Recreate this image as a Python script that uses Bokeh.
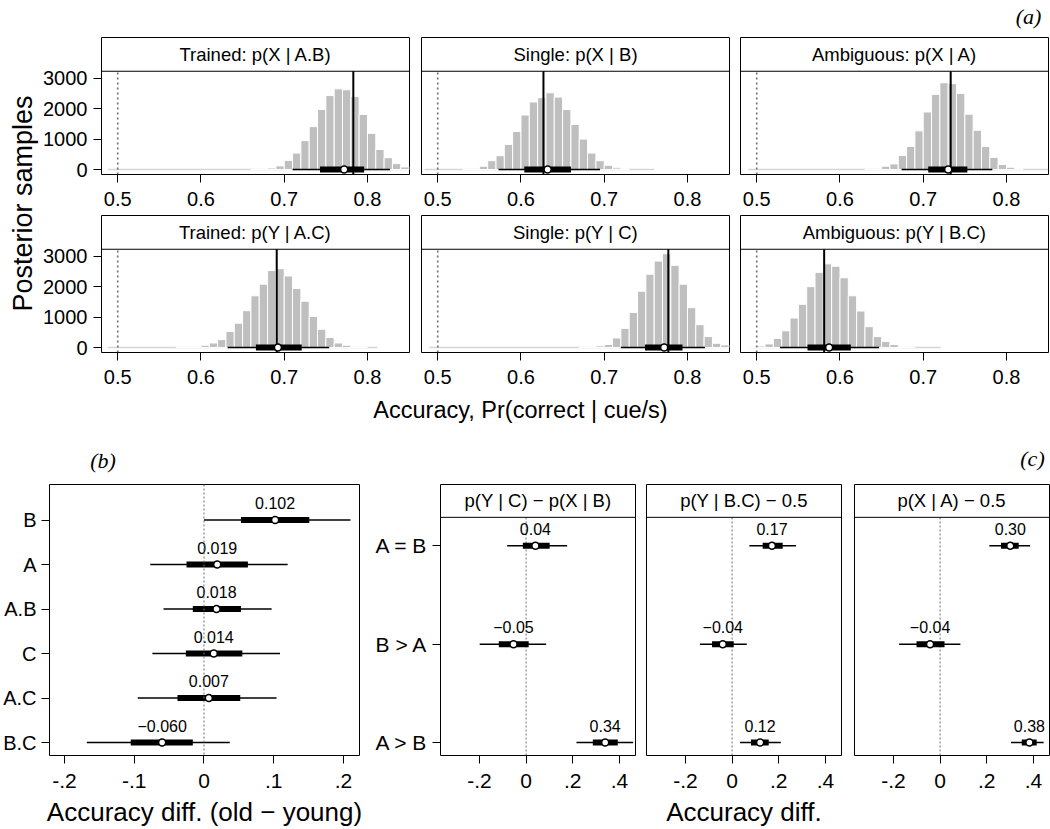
import numpy as np
from bokeh.plotting import figure
from bokeh.layouts import row, column
from bokeh.models import Range1d, FixedTicker, Span
from bokeh.core.properties import value
from bokeh.embed import file_html
from bokeh.resources import INLINE

# ======================= DATA =======================
# ---- panel (a): posterior histograms (bin width 0.01) ----
hist_titles = ["Trained: p(X | A.B)", "Single: p(X | B)", "Ambiguous: p(X | A)",
               "Trained: p(Y | A.C)", "Single: p(Y | C)", "Ambiguous: p(Y | B.C)"]
hist_first_bin = [0.66, 0.53, 0.63, 0.57, 0.67, 0.49]
counts_XAB = [10, 25, 50, 120, 300, 540, 950, 1410, 1975, 2430, 2650, 2620, 2400, 1810, 1190, 660, 390, 195, 85]
counts_XB = [15, 40, 110, 290, 455, 825, 1250, 1790, 2220, 2360, 2520, 2380, 1970, 1480, 1000, 540, 290, 140, 55, 20]
counts_XA = [15, 40, 110, 185, 460, 760, 1270, 1890, 2470, 2850, 2820, 2500, 1820, 1290, 760, 400, 165, 75, 20]
counts_YAC = [20, 30, 40, 75, 150, 260, 530, 800, 1210, 1700, 2080, 2530, 2590, 2350, 1940, 1520, 1020, 600, 330, 150, 75, 30, 10]
counts_YC = [10, 20, 55, 100, 315, 630, 1150, 1850, 2410, 2840, 3080, 2700, 2080, 1310, 750, 360, 140, 85]
counts_YBC = [15, 50, 120, 300, 550, 970, 1420, 2000, 2470, 2750, 2670, 2290, 1700, 1200, 685, 360, 200, 100, 30, 10]
hist_counts = [counts_XAB, counts_XB, counts_XA, counts_YAC, counts_YC, counts_YBC]
sample_min = [0.488, 0.484, 0.490, 0.488, 0.490, 0.490]
sample_max = [0.850, 0.760, 0.850, 0.812, 0.850, 0.721]
observed = [0.783, 0.627, 0.733, 0.691, 0.777, 0.581]
a_median = [0.772, 0.632, 0.730, 0.6925, 0.772, 0.587]
a_lo95 = [0.710, 0.573, 0.674, 0.632, 0.720, 0.528]
a_hi95 = [0.827, 0.695, 0.783, 0.754, 0.821, 0.647]
a_lo50 = [0.743, 0.604, 0.706, 0.666, 0.749, 0.561]
a_hi50 = [0.796, 0.660, 0.753, 0.721, 0.794, 0.613]
chance = 0.5
a_xticks = [0.5, 0.6, 0.7, 0.8]
a_yticks = [0, 1000, 2000, 3000]

# ---- panel (b): accuracy difference old - young ----
b_categories = ["B.C", "A.C", "C", "A.B", "A", "B"]          # bottom -> top
b_median = [-0.060, 0.007, 0.014, 0.018, 0.019, 0.102]
b_lo95 = [-0.168, -0.095, -0.074, -0.058, -0.077, 0.000]
b_hi95 = [0.037, 0.104, 0.109, 0.097, 0.120, 0.210]
b_lo50 = [-0.105, -0.038, -0.026, -0.016, -0.025, 0.053]
b_hi50 = [-0.016, 0.052, 0.055, 0.053, 0.063, 0.151]
b_xticks = [-0.2, -0.1, 0.0, 0.1, 0.2]
b_xtick_labels = ["-.2", "-.1", "0", ".1", ".2"]

# ---- panel (c): contrasts by group ----
c_titles = ["p(Y | C) \u2212 p(X | B)", "p(Y | B.C) \u2212 0.5", "p(X | A) \u2212 0.5"]
c_groups = ["A > B", "B > A", "A = B"]                        # bottom -> top
c_median = [[0.339, -0.054, 0.040], [0.120, -0.040, 0.171], [0.383, -0.043, 0.301]]
c_lo95 = [[0.216, -0.199, -0.081], [0.034, -0.138, 0.074], [0.304, -0.176, 0.211]]
c_hi95 = [[0.459, 0.086, 0.176], [0.209, 0.063, 0.274], [0.444, 0.087, 0.386]]
c_lo50 = [[0.286, -0.117, -0.014], [0.081, -0.086, 0.131], [0.350, -0.101, 0.261]]
c_hi50 = [[0.393, 0.011, 0.101], [0.157, 0.007, 0.217], [0.414, 0.019, 0.337]]
c_xticks = [-0.2, 0.0, 0.2, 0.4]
c_xtick_labels = ["-.2", "0", ".2", ".4"]

# ======================= STYLE / LAYOUT =======================
FONT = "Liberation Sans"
SERIF = "Liberation Serif"
BIN_W = 0.01
BAR_COLOR = "#bfbfbf"
REF_COLOR = "#6e6e6e"

A_X = (0.4805, 0.8505)
A_Y0, A_PLOT_TOP, A_STRIP_TOP = -163, 3228, 4337
B_X = (-0.2215, 0.223)
B_Y = (0.71, 6.8)
C_X = (-0.367, 0.469)
C_Y0, C_PLOT_TOP, C_STRIP_TOP = 0.868, 3.29, 3.624


def fmt(v, d):
    return f"{v:.{d}f}".replace("-", "\u2212")


def base_fig(w, h, xr, yr, left, right, bottom, show_x=True, show_y=True):
    p = figure(width=w, height=h, x_range=Range1d(*xr), y_range=Range1d(*yr),
               output_backend="svg", toolbar_location=None,
               x_axis_location="below" if show_x else None,
               y_axis_location="left" if show_y else None,
               min_border_left=left, min_border_right=right,
               min_border_top=1, min_border_bottom=bottom)
    p.grid.visible = False
    p.outline_line_color = "black"
    p.outline_line_width = 1
    p.background_fill_color = "white"
    p.border_fill_color = "white"
    for ax in p.axis:
        ax.axis_line_color = None
        ax.major_tick_line_color = "black"
        ax.major_tick_line_width = 1
        ax.major_tick_out = 8
        ax.major_tick_in = 0
        ax.minor_tick_line_color = None
        ax.major_label_text_font = FONT
        ax.major_label_text_color = "black"
        ax.axis_label_text_color = "black"
    return p


def text_fig(w, h):
    p = figure(width=w, height=h, x_range=Range1d(0, w), y_range=Range1d(h, 0),
               output_backend="svg", toolbar_location=None,
               x_axis_location=None, y_axis_location=None, min_border=0)
    p.outline_line_color = None
    p.grid.visible = False
    p.border_fill_color = "white"
    return p


def draw_interval(p, ys, lo95, hi95, lo50, hi50, med):
    p.segment(x0=lo95, y0=ys, x1=hi95, y1=ys, line_color="black", line_width=1.5)
    p.segment(x0=lo50, y0=ys, x1=hi50, y1=ys, line_color="black", line_width=6, line_cap="butt")
    p.scatter(x=med, y=ys, marker="circle", size=7, fill_color="white",
              line_color="black", line_width=1.5)


def hist_panel(i, w, left, right, show_y):
    p = base_fig(w, 178, A_X, (A_Y0, A_STRIP_TOP), left, right, 40, True, show_y)
    p.xaxis.ticker = FixedTicker(ticks=a_xticks)
    p.xaxis.major_label_text_font_size = "20px"
    p.xaxis.major_label_standoff = 9
    if show_y:
        p.yaxis.ticker = FixedTicker(ticks=a_yticks)
        p.yaxis.major_label_text_font_size = "20px"
        p.yaxis.major_label_standoff = 6
    counts = np.array(hist_counts[i], dtype=float)
    left_edges = hist_first_bin[i] + BIN_W * np.arange(len(counts))
    p.segment(x0=[sample_min[i]], y0=[0], x1=[sample_max[i]], y1=[0],
              line_color="#d6d6d6", line_width=1.5)
    p.quad(left=left_edges, right=left_edges + BIN_W, bottom=0, top=counts,
           fill_color=BAR_COLOR, line_color="white", line_width=1)
    p.segment(x0=[chance], y0=[A_Y0], x1=[chance], y1=[A_PLOT_TOP],
              line_color=REF_COLOR, line_width=1.6, line_dash="2 3")
    p.segment(x0=[observed[i]], y0=[A_Y0], x1=[observed[i]], y1=[A_PLOT_TOP],
              line_color="black", line_width=2)
    draw_interval(p, [0], [a_lo95[i]], [a_hi95[i]], [a_lo50[i]], [a_hi50[i]], [a_median[i]])
    # strip
    p.add_layout(Span(location=A_PLOT_TOP, dimension="width", line_color="black", line_width=1))
    p.text(x=[(A_X[0] + A_X[1]) / 2], y=[(A_PLOT_TOP + A_STRIP_TOP) / 2], text=[hist_titles[i]],
           text_font=value(FONT), text_font_size="18.5px", text_align="center",
           text_baseline="middle", text_color="black")
    return p


# ---- panel (a) ----
a_label = text_fig(1050, 36)
a_label.text(x=[1028], y=[16], text=["(a)"], text_font=value(SERIF), text_font_style="italic",
             text_font_size="22px", text_align="center", text_baseline="middle")

ytitle = text_fig(40, 356)
ytitle.text(x=[22], y=[167], text=["Posterior samples"], angle=np.pi / 2,
            text_font=value(FONT), text_font_size="27px", text_align="center",
            text_baseline="middle")

p11 = hist_panel(0, 375, 61, 6, True)
p12 = hist_panel(1, 320, 6, 6, False)
p13 = hist_panel(2, 315, 5, 2, False)
p21 = hist_panel(3, 375, 61, 6, True)
p22 = hist_panel(4, 320, 6, 6, False)
p23 = hist_panel(5, 315, 5, 2, False)

xtitle = text_fig(1050, 36)
xtitle.text(x=[520], y=[17], text=["Accuracy, Pr(correct | cue/s)"],
            text_font=value(FONT), text_font_size="23.5px", text_align="center",
            text_baseline="middle")

# ---- panel (b) ----
b_label = text_fig(365, 55)
b_label.text(x=[63], y=[32], text=["(b)"], text_font=value(SERIF), text_font_style="italic",
             text_font_size="22px", text_align="center", text_baseline="middle")

pb = base_fig(365, 346, B_X, B_Y, 49, 6, 73)
b_pos = [k + 1 for k in range(len(b_categories))]
pb.xaxis.ticker = FixedTicker(ticks=b_xticks)
pb.xaxis.major_label_overrides = {t: s for t, s in zip(b_xticks, b_xtick_labels)}
pb.xaxis.major_label_text_font_size = "21px"
pb.xaxis.major_label_standoff = 10
pb.xaxis.axis_label = "Accuracy diff. (old \u2212 young)"
pb.xaxis.axis_label_text_font = FONT
pb.xaxis.axis_label_text_font_style = "normal"
pb.xaxis.axis_label_text_font_size = "26px"
pb.xaxis.axis_label_standoff = 6
pb.yaxis.ticker = FixedTicker(ticks=b_pos)
pb.yaxis.major_label_overrides = {t: s for t, s in zip(b_pos, b_categories)}
pb.yaxis.major_label_text_font_size = "20px"
pb.yaxis.major_label_standoff = 5
pb.add_layout(Span(location=0, dimension="height", line_color=REF_COLOR, line_width=1,
                   line_dash="2 2"))
draw_interval(pb, b_pos, b_lo95, b_hi95, b_lo50, b_hi50, b_median)
pb.text(x=b_median, y=b_pos, text=[fmt(v, 3) for v in b_median], y_offset=-17,
        text_font=value(FONT), text_font_size="16px", text_align="center",
        text_baseline="middle", text_color="black")

# ---- panel (c) ----
c_label = text_fig(685, 55)
c_label.text(x=[667], y=[30], text=["(c)"], text_font=value(SERIF), text_font_style="italic",
             text_font_size="22px", text_align="center", text_baseline="middle")

c_pos = [k + 1 for k in range(len(c_groups))]
c_specs = [(275, 75, 5, True), (208, 6, 7, False), (202, 6, 1, False)]
c_figs = []
for j, (w, lb, rb, showy) in enumerate(c_specs):
    p = base_fig(w, 346, C_X, (C_Y0, C_STRIP_TOP), lb, rb, 73, True, showy)
    p.xaxis.ticker = FixedTicker(ticks=c_xticks)
    p.xaxis.major_label_overrides = {t: s for t, s in zip(c_xticks, c_xtick_labels)}
    p.xaxis.major_label_text_font_size = "21px"
    p.xaxis.major_label_standoff = 10
    if showy:
        p.yaxis.ticker = FixedTicker(ticks=c_pos)
        p.yaxis.major_label_overrides = {t: s for t, s in zip(c_pos, c_groups)}
        p.yaxis.major_label_text_font_size = "21px"
        p.yaxis.major_label_standoff = 5
    if j == 1:
        p.xaxis.axis_label = "Accuracy diff."
        p.xaxis.axis_label_text_font = FONT
        p.xaxis.axis_label_text_font_style = "normal"
        p.xaxis.axis_label_text_font_size = "26px"
        p.xaxis.axis_label_standoff = 6
    p.segment(x0=[0], y0=[C_Y0], x1=[0], y1=[C_PLOT_TOP], line_color=REF_COLOR,
              line_width=1, line_dash="2 2")
    draw_interval(p, c_pos, c_lo95[j], c_hi95[j], c_lo50[j], c_hi50[j], c_median[j])
    p.text(x=c_median[j], y=c_pos, text=[fmt(v, 2) for v in c_median[j]], y_offset=-17,
           text_font=value(FONT), text_font_size="16px", text_align="center",
           text_baseline="middle", text_color="black")
    p.add_layout(Span(location=C_PLOT_TOP, dimension="width", line_color="black", line_width=1))
    p.text(x=[(C_X[0] + C_X[1]) / 2], y=[(C_PLOT_TOP + C_STRIP_TOP) / 2], text=[c_titles[j]],
           text_font=value(FONT), text_font_size="18.5px", text_align="center",
           text_baseline="middle", text_color="black")
    c_figs.append(p)

top = column(a_label,
             row(ytitle, column(row(p11, p12, p13), row(p21, p22, p23))),
             xtitle)
bottom = row(column(b_label, pb), column(c_label, row(*c_figs)))
layout = column(top, bottom)

open("out.html", "w").write(file_html(layout, INLINE))
